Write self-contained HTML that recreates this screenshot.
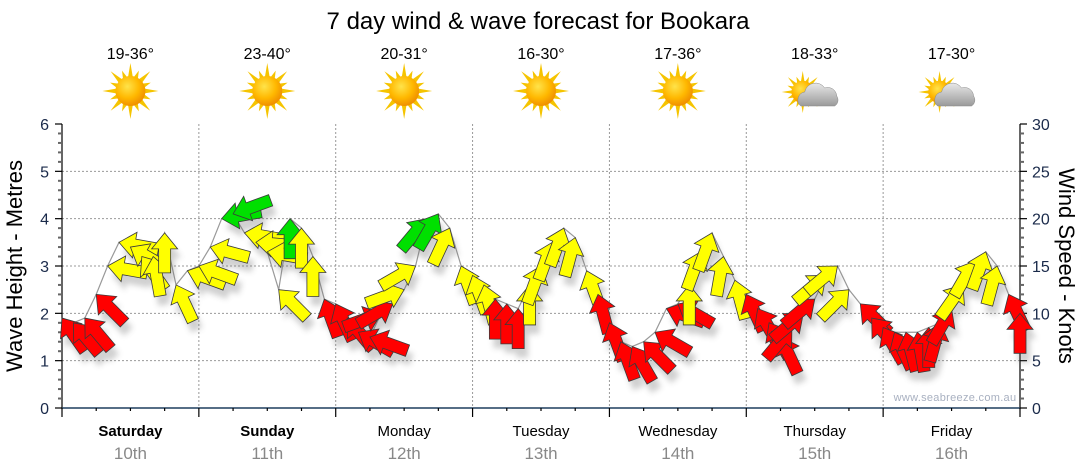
<!DOCTYPE html>
<html><head><meta charset="utf-8"><style>
html,body{margin:0;padding:0;background:#fff;}
svg{display:block;font-family:"Liberation Sans",sans-serif;}
</style></head><body>
<svg id="chart" width="1080" height="475" viewBox="0 0 1080 475" xmlns="http://www.w3.org/2000/svg">
<defs>
<filter id="sh" x="-50%" y="-50%" width="200%" height="200%"><feGaussianBlur stdDeviation="3"/></filter>
<radialGradient id="sunG" cx="40%" cy="35%" r="65%"><stop offset="0" stop-color="#ffe34a"/><stop offset="0.6" stop-color="#ffb800"/><stop offset="1" stop-color="#f09000"/></radialGradient>
<linearGradient id="cloudG" x1="0" y1="0" x2="0" y2="1"><stop offset="0" stop-color="#e8e8e8"/><stop offset="1" stop-color="#9a9a9a"/></linearGradient>
</defs>
<text x="538" y="29" font-size="24" text-anchor="middle" fill="#000">7 day wind &amp; wave forecast for Bookara</text>
<g id="weather"></g>
<g id="grid"></g>
<g id="axes"></g>
<text transform="translate(22,266) rotate(-90)" font-size="22" text-anchor="middle" fill="#000">Wave Height - Metres</text>
<text transform="translate(1059,266) rotate(90)" font-size="22" text-anchor="middle" fill="#000">Wind Speed - Knots</text>
<text x="955" y="401" font-size="11" text-anchor="middle" fill="#a8b0c0" letter-spacing="0.3">www.seabreeze.com.au</text>
<g id="series"></g>
</svg>
<script>
const days = ["Saturday","Sunday","Monday","Tuesday","Wednesday","Thursday","Friday"];
const dates = ["10th","11th","12th","13th","14th","15th","16th"];
const boldDays = [true,true,false,false,false,false,false];
const temps = ["19-36°","23-40°","20-31°","16-30°","17-36°","18-33°","17-30°"];
const cloudy = [false,false,false,false,false,true,true];
const leftTicks = [0,1,2,3,4,5,6];
const rightTicks = [0,5,10,15,20,25,30];
// forecast hours from start of Saturday
const hours = [0,2,4,6,8,10,12,14,16,18,20,22,
 24,26,28,30,32,34,36,38,40,42,44,46,
 48,50,52,54,56,58,60,62,64,66,68,70,
 72,74,76,78,80,82,84,86,88,90,92,94,
 96,98,100,102,104,106,108,110,112,114,116,118,
 120,122,124,126,128,130,132,134,136,138,140,142,
 144,146,148,150,152,154,156,158,160,162,164,166,168];
// wind speed in knots
const windSpeed = [9.5,9,9.5,12,15,17.5,17,16,16,18.5,13,14.5,
 15,17,20,20.5,18.5,17.5,16.5,12.5,20,19,16,11.5,
 11,9.5,8,7.5,10,11,12.5,15,20,20.5,19,15,
 14,13,11.5,11,10.5,13,15,17.5,19,18,14.5,12,
 9,7,6.5,7,8,10.5,11,13,16.5,18.5,16,13.5,
 12,10.5,9,7.5,8.5,10,11.5,14,15,12.5,11,9.5,
 8.5,8,8,8,8.5,9,10.5,13,15.5,16.5,15,12,10];
// wind arrow pointing direction, degrees clockwise from up
const windDir = [-35,-40,-40,-45,-80,-80,-60,-35,-10,0,-25,-70,
 -70,-75,-100,-110,-80,-85,-80,-45,0,0,0,-20,
 -25,-40,-60,-70,70,60,70,60,40,30,25,-20,
 -20,-15,0,0,0,0,20,20,20,15,-20,-15,
 -20,-20,-30,-45,-60,-70,-60,0,20,20,10,-15,
 -25,-30,-30,-25,40,50,50,50,50,45,-45,-40,
 -30,-25,-15,-10,0,15,30,35,30,20,15,-25,0];

const NS="http://www.w3.org/2000/svg";
const X0=62,X1=1020,Y0=408,YT=124;
const dayW=(X1-X0)/7;
const xOf=h=>X0+h*(X1-X0)/168;
const yWave=m=>Y0-m*(Y0-YT)/6;
const yKn=k=>Y0-k*(Y0-YT)/30;
function mk(tag,attrs,parent){const e=document.createElementNS(NS,tag);for(const k in attrs)e.setAttribute(k,attrs[k]);if(parent)parent.appendChild(e);return e;}

// weather
const wg=document.getElementById('weather');
days.forEach((d,i)=>{
  const cx=X0+dayW*(i+0.5);
  const t=mk('text',{x:cx,y:59,'font-size':16,'text-anchor':'middle',fill:'#000'},wg);
  
  
  t.textContent=temps[i];
  const g=mk('g',{},wg);
  
  
  const sx=cloudy[i]?cx-12:cx, sy=cloudy[i]?92:91, sc=cloudy[i]?0.75:1;
  for(let r=0;r<16;r++){
    const a=r*Math.PI/8, L=(r%2?22:28)*sc, w=0.2;
    const p=[[sx+Math.sin(a)*L,sy-Math.cos(a)*L],[sx+Math.sin(a+w)*13*sc,sy-Math.cos(a+w)*13*sc],[sx+Math.sin(a-w)*13*sc,sy-Math.cos(a-w)*13*sc]];
    mk('polygon',{points:p.map(q=>q.join(',')).join(' '),fill:'#f5c400'},g);
  }
  mk('circle',{cx:sx,cy:sy,r:15*sc,fill:'url(#sunG)'},g);
  if(cloudy[i]){
    mk('path',{d:`M${cx-14},${sy+14} a8,8 0 0 1 4,-14 a11,11 0 0 1 20,-4 a9,9 0 0 1 12,8 a7,7 0 0 1 -2,10 z`,fill:'url(#cloudG)',stroke:'#888','stroke-width':0.5},g);
  }
});

// grid
const gg=document.getElementById('grid');
for(let m=1;m<=5;m++){const l=mk('line',{x1:X0,x2:X1,y1:yWave(m),y2:yWave(m),stroke:'#999','stroke-width':1,'stroke-dasharray':'2,2'},gg);
  }
for(let i=1;i<7;i++){const x=X0+dayW*i;const l=mk('line',{x1:x,x2:x,y1:YT,y2:Y0,stroke:'#999','stroke-width':1,'stroke-dasharray':'2,2'},gg);
  }

// axes
const ag=document.getElementById('axes');
mk('line',{x1:X0,x2:X0,y1:YT,y2:Y0+1,stroke:'#000','stroke-width':1.2},ag);
mk('line',{x1:X1,x2:X1,y1:YT,y2:Y0+1,stroke:'#000','stroke-width':1.2},ag);
for(let k=0;k<=30;k++){const y=yWave(k/5);mk('line',{x1:X0-(k%5?4:7),x2:X0,y1:y,y2:y,stroke:k%5?'#666':'#000','stroke-width':k%5?2:1.2},ag);}
leftTicks.forEach(v=>{const t=mk('text',{x:X0-13,y:yWave(v)+6,'font-size':16,'text-anchor':'end',fill:'#1a2a4a'},ag);
  t.textContent=v;});
for(let k=0;k<=30;k++){const y=yKn(k);mk('line',{x1:X1,x2:X1+(k%5?4:7),y1:y,y2:y,stroke:k%5?'#666':'#000','stroke-width':k%5?2:1.2},ag);}
rightTicks.forEach(v=>{const t=mk('text',{x:X1+12,y:yKn(v)+6,'font-size':16,'text-anchor':'start',fill:'#1a2a4a'},ag);
  t.textContent=v;});
mk('line',{x1:X0,x2:X1,y1:Y0,y2:Y0,stroke:'#1f3f5f','stroke-width':1.5},ag);
for(let q=0;q<=28;q++){const x=X0+q*dayW/4;mk('line',{x1:x,x2:x,y1:Y0,y2:Y0+(q%4?3:9),stroke:'#000','stroke-width':1.2},ag);}
days.forEach((d,i)=>{const cx=X0+dayW*(i+0.5);
  const t=mk('text',{x:cx,y:436,'font-size':15,'text-anchor':'middle',fill:'#000','font-weight':boldDays[i]?'bold':'normal'},ag);
  t.textContent=d;
  const t2=mk('text',{x:cx,y:459,'font-size':17,'text-anchor':'middle',fill:'#888'},ag);
  t2.textContent=dates[i];});

// series
const sg=document.getElementById('series');
const pts=hours.map((h,i)=>[xOf(h),yKn(windSpeed[i])]);
const line=mk('polyline',{points:pts.map(p=>p.join(',')).join(' '),fill:'none',stroke:'#999','stroke-width':1.2},sg);


const arrowPath="M0,0 L13,16 L6,16 L6,40 L-6,40 L-6,16 L-13,16 Z";
const shadows=mk('g',{filter:'url(#sh)',opacity:0.3},sg);
pts.forEach((p,i)=>{mk('path',{d:arrowPath,transform:`translate(${p[0]+4},${p[1]+9}) rotate(${windDir[i]})`,fill:'#666'},shadows);});
pts.forEach((p,i)=>{
  const s=windSpeed[i];
  const col=s>=19.8?'#00e000':(s>=12.5?'#ffff00':'#ff0000');
  const a=mk('path',{d:arrowPath,transform:`translate(${p[0]},${p[1]}) rotate(${windDir[i]})`,fill:col,stroke:'#3a3a3a','stroke-width':0.8,'stroke-linejoin':'miter'},sg);
  
  
});
</script>
</body></html>
